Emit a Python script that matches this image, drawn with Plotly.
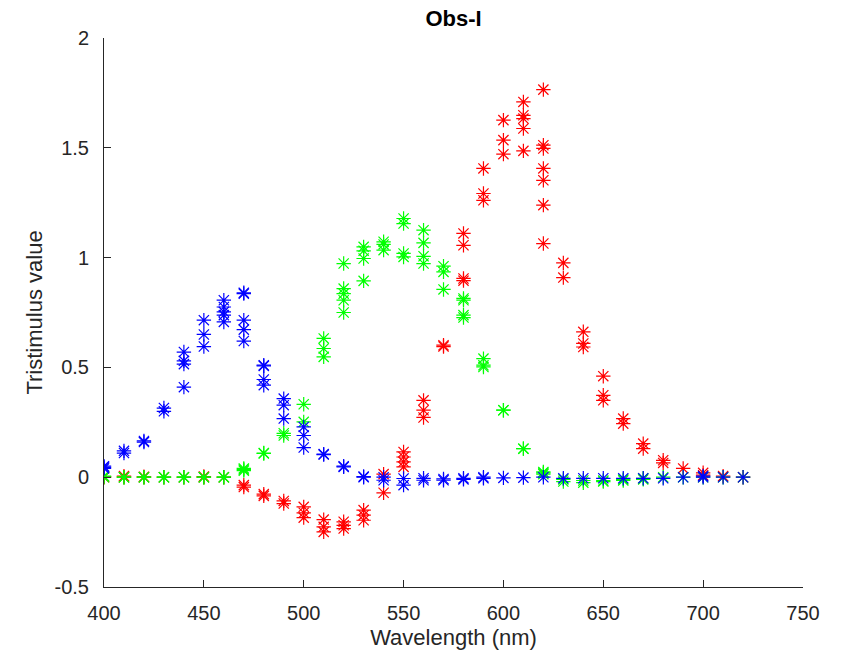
import plotly.graph_objects as go

wavelengths = list(range(400, 730, 10))

blue_obs = [
    [0.05, 0.04, 0.045], [0.11, 0.12], [0.16, 0.165], [0.30, 0.315],
    [0.57, 0.53, 0.515, 0.41], [0.715, 0.65, 0.595],
    [0.806, 0.775, 0.753, 0.738, 0.707], [0.836, 0.84, 0.715, 0.672, 0.62],
    [0.507, 0.51, 0.445, 0.419], [0.358, 0.328, 0.267], [0.229, 0.19, 0.135],
    [0.103, 0.105], [0.047, 0.05], [0.0, 0.003], [-0.014, 0.0],
    [-0.006, -0.036], [-0.014, -0.005], [-0.014, -0.008], [-0.01, -0.005],
    [-0.005, 0.0], [-0.003], [-0.002], [0.0], [-0.005], [-0.005], [-0.005],
    [-0.005], [-0.005], [-0.005], [0.0], [0.005, 0.0], [0.0], [0.0],
]

green_obs = [
    [0.0, 0.005], [0.0, 0.0], [0.0, 0.0], [0.0, 0.0], [0.0, 0.0], [0.0, 0.0],
    [0.0, 0.0], [0.04, 0.03, 0.035], [0.11, 0.108], [0.2, 0.19],
    [0.332, 0.252], [0.632, 0.586, 0.548], [0.973, 0.859, 0.836, 0.806, 0.75],
    [1.049, 1.031, 0.996, 0.894], [1.072, 1.06, 1.034],
    [1.178, 1.155, 1.019, 1.003], [1.125, 1.067, 1.006, 0.973],
    [0.961, 0.935, 0.855], [0.814, 0.806, 0.738, 0.727], [0.54, 0.51, 0.502],
    [0.305, 0.305], [0.13, 0.13], [0.024, 0.014, 0.02], [-0.01, -0.02],
    [-0.015, -0.025], [-0.02, -0.015], [-0.015, -0.01], [-0.005, -0.01],
    [0.0], [0.0], [0.0], [0.0], [0.0],
]

red_obs = [
    [0.0, 0.002], [0.0, 0.005], [0.0, 0.002], [0.0], [0.0], [0.0, 0.003],
    [0.0], [-0.036, -0.045], [-0.077, -0.085], [-0.108, -0.12],
    [-0.135, -0.162, -0.184], [-0.193, -0.226, -0.249],
    [-0.203, -0.219, -0.234], [-0.15, -0.173, -0.196], [0.014, -0.071],
    [0.115, 0.092, 0.07, 0.047], [0.35, 0.305, 0.272], [0.601, 0.595],
    [1.11, 1.056, 0.905, 0.895], [1.406, 1.292, 1.261], [1.626, 1.535, 1.471],
    [1.709, 1.648, 1.633, 1.588, 1.486],
    [1.765, 1.512, 1.497, 1.406, 1.352, 1.239, 1.064], [0.976, 0.909],
    [0.662, 0.609, 0.593], [0.46, 0.373, 0.35], [0.267, 0.244],
    [0.153, 0.13], [0.077, 0.065], [0.04], [0.02, 0.009], [0.005], [0.0],
]

x_ticks = [400, 450, 500, 550, 600, 650, 700, 750]
y_ticks = [-0.5, 0, 0.5, 1, 1.5, 2]
y_tick_labels = ["-0.5", "0", "0.5", "1", "1.5", "2"]

FONT = "Liberation Sans, Arial, Helvetica"


def flatten(obs):
    xs, ys = [], []
    for w, vals in zip(wavelengths, obs):
        for v in vals:
            xs.append(w)
            ys.append(v)
    return xs, ys


fig = go.Figure()
for obs, color in [(red_obs, "#FF0000"), (green_obs, "#00FF00"), (blue_obs, "#0000FF")]:
    xs, ys = flatten(obs)
    fig.add_trace(go.Scatter(
        x=xs, y=ys, mode="markers",
        marker=dict(symbol="asterisk-open", size=12, color=color,
                    line=dict(color=color, width=1.2)),
        showlegend=False,
    ))

axis_common = dict(
    showline=True, linecolor="#262626", linewidth=1, ticks="inside",
    ticklen=7, tickcolor="#262626", showgrid=False, zeroline=False,
    mirror=False, tickfont=dict(family=FONT, size=20, color="#262626"),
)

fig.update_layout(
    width=846, height=656,
    margin=dict(l=104, r=43, t=38, b=69),
    paper_bgcolor="white", plot_bgcolor="white",
    title=dict(text="<b>Obs-I</b>", x=(104 + 803) / 2 / 846, xanchor="center",
               y=1 - 18 / 656, yanchor="middle",
               font=dict(family=FONT, size=22, color="black")),
    xaxis=dict(range=[400, 750], tickvals=x_ticks, ticklabelstandoff=8,
               title=dict(text="Wavelength (nm)", standoff=6,
                          font=dict(family=FONT, size=22, color="#262626")),
               **axis_common),
    yaxis=dict(range=[-0.5, 2], tickvals=y_ticks, ticktext=y_tick_labels,
               ticklabelstandoff=10,
               title=dict(text="Tristimulus value", standoff=5,
                          font=dict(family=FONT, size=22, color="#262626")),
               **axis_common),
)

fig.write_html("out.html")
